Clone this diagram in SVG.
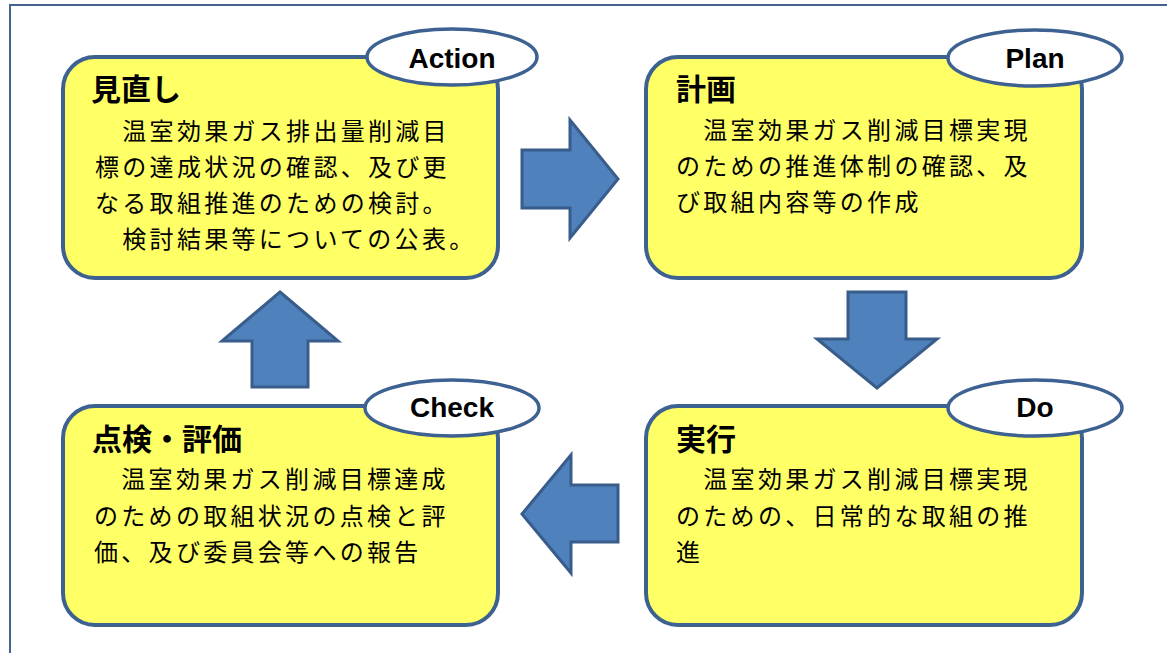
<svg xmlns="http://www.w3.org/2000/svg" width="1167" height="653" viewBox="0 0 1167 653">
<style>
.frame{fill:#fff;stroke:#44648f;stroke-width:2}
.box{fill:#ffff66;stroke:#3d6190;stroke-width:4}
.oval{fill:#fff;stroke:#3d6190;stroke-width:3.5}
.arrow{fill:#4f81bd;stroke:#385d8a;stroke-width:3;stroke-linejoin:miter}
.title{font-family:"Noto Sans CJK JP",sans-serif;font-weight:bold;font-size:30px;fill:#000}
.body{font-family:"Noto Sans CJK JP",sans-serif;font-size:24px;letter-spacing:3.3px;fill:#000}
.tag{font-family:"Liberation Sans",Arial,sans-serif;font-weight:bold;font-size:28px;fill:#000;text-anchor:middle}
</style>
<rect class="frame" x="10" y="5" width="1170" height="670"/>
<g id="connectors">
<polygon class="arrow" points="522,150 570,150 570,120 618,179 570,238 570,208 522,208"/>
<polygon class="arrow" points="848,292 906,292 906,339 937,339 877,388 817,339 848,339"/>
<polygon class="arrow" points="522,514 571,455 571,485 618,485 618,542 571,542 571,573"/>
<polygon class="arrow" points="280,292 338,341 308,341 308,387 252,387 252,341 222,341"/>
</g>
<g id="action">
<rect class="box" x="63" y="57" width="435" height="221" rx="32" ry="32"/>
<ellipse class="oval" cx="452" cy="57" rx="85" ry="28"/>
<text class="tag" x="452" y="68">Action</text>
<text class="title" x="91" y="100">見直し</text>
<text class="body" x="95" y="140">　温室効果ガス排出量削減目</text>
<text class="body" x="95" y="176">標の達成状況の確認、及び更</text>
<text class="body" x="95" y="212">なる取組推進のための検討。</text>
<text class="body" x="95" y="248">　検討結果等についての公表。</text>
</g>
<g id="plan">
<rect class="box" x="646" y="57" width="436" height="221" rx="32" ry="32"/>
<ellipse class="oval" cx="1035" cy="58" rx="87" ry="28"/>
<text class="tag" x="1035" y="68">Plan</text>
<text class="title" x="676" y="100">計画</text>
<text class="body" x="676" y="139">　温室効果ガス削減目標実現</text>
<text class="body" x="676" y="175">のための推進体制の確認、及</text>
<text class="body" x="676" y="211">び取組内容等の作成</text>
</g>
<g id="check">
<rect class="box" x="63" y="406" width="435" height="219" rx="32" ry="32"/>
<ellipse class="oval" cx="452" cy="408" rx="87" ry="28"/>
<text class="tag" x="452" y="417">Check</text>
<text class="title" x="92" y="450">点検・評価</text>
<text class="body" x="94" y="488">　温室効果ガス削減目標達成</text>
<text class="body" x="94" y="525">のための取組状況の点検と評</text>
<text class="body" x="94" y="561">価、及び委員会等への報告</text>
</g>
<g id="do">
<rect class="box" x="646" y="406" width="436" height="219" rx="32" ry="32"/>
<ellipse class="oval" cx="1035" cy="408" rx="87" ry="28"/>
<text class="tag" x="1035" y="417">Do</text>
<text class="title" x="676" y="450">実行</text>
<text class="body" x="676" y="488">　温室効果ガス削減目標実現</text>
<text class="body" x="676" y="525">のための、日常的な取組の推</text>
<text class="body" x="676" y="561">進</text>
</g>
</svg>
